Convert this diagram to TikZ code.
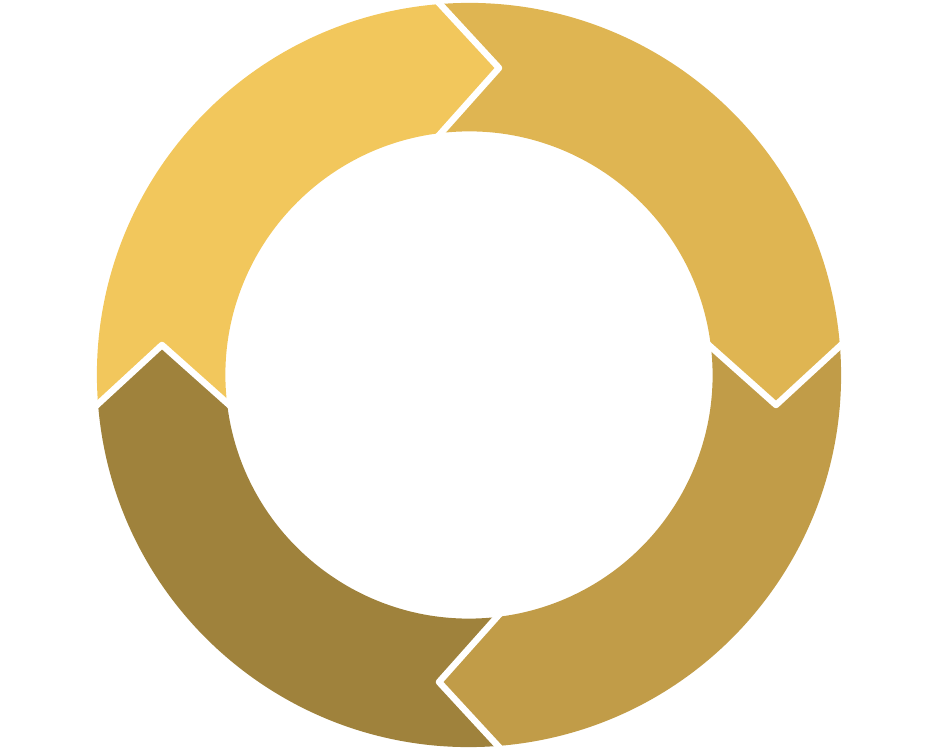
\documentclass[tikz,border=0pt]{standalone}
\definecolor{segA}{HTML}{F2C75C}
\definecolor{segB}{HTML}{DFB552}
\definecolor{segC}{HTML}{C19C48}
\definecolor{segD}{HTML}{9F823C}
\tikzset{
  sepline/.style={white, line width=6.5pt, line join=round, shorten <=-8pt, shorten >=-8pt},
}
\newcommand{\Ro}{372.1pt}
\newcommand{\Ri}{243.6pt}
\newcommand{\Rm}{308.5pt}
% segment k from boundary k to boundary k+1, colour #2
\newcommand{\ringseg}[2]{%
  \pgfmathsetmacro{\aO}{94.47-90*#1}%
  \pgfmathsetmacro{\bO}{4.47-90*#1}%
  \pgfmathsetmacro{\aI}{96.6-90*#1}%
  \pgfmathsetmacro{\bI}{6.6-90*#1}%
  \pgfmathsetmacro{\aT}{84.42-90*#1}%
  \pgfmathsetmacro{\bT}{-5.58-90*#1}%
  \fill[#2] (\aO:\Ro) arc[start angle=\aO, end angle=\bO, radius=\Ro]
    -- (\bT:\Rm) -- (\bI:\Ri)
    arc[start angle=\bI, end angle=\aI, radius=\Ri]
    -- (\aT:\Rm) -- cycle;
}
\newcommand{\chev}[1]{%
  \pgfmathsetmacro{\aO}{94.47-90*#1}%
  \pgfmathsetmacro{\aI}{96.6-90*#1}%
  \pgfmathsetmacro{\aT}{84.42-90*#1}%
  \draw[sepline] (\aO:\Ro) coordinate (o#1) -- (\aT:\Rm) coordinate (t#1) -- (\aI:\Ri) coordinate (i#1);
}
\begin{document}
\begin{tikzpicture}
\useasboundingbox (-469pt,-376pt) rectangle (469pt,375pt);
\ringseg{0}{segB}
\ringseg{1}{segC}
\ringseg{2}{segD}
\ringseg{3}{segA}
\chev{0}
\chev{1}
\chev{2}
\chev{3}
\end{tikzpicture}
\end{document}
